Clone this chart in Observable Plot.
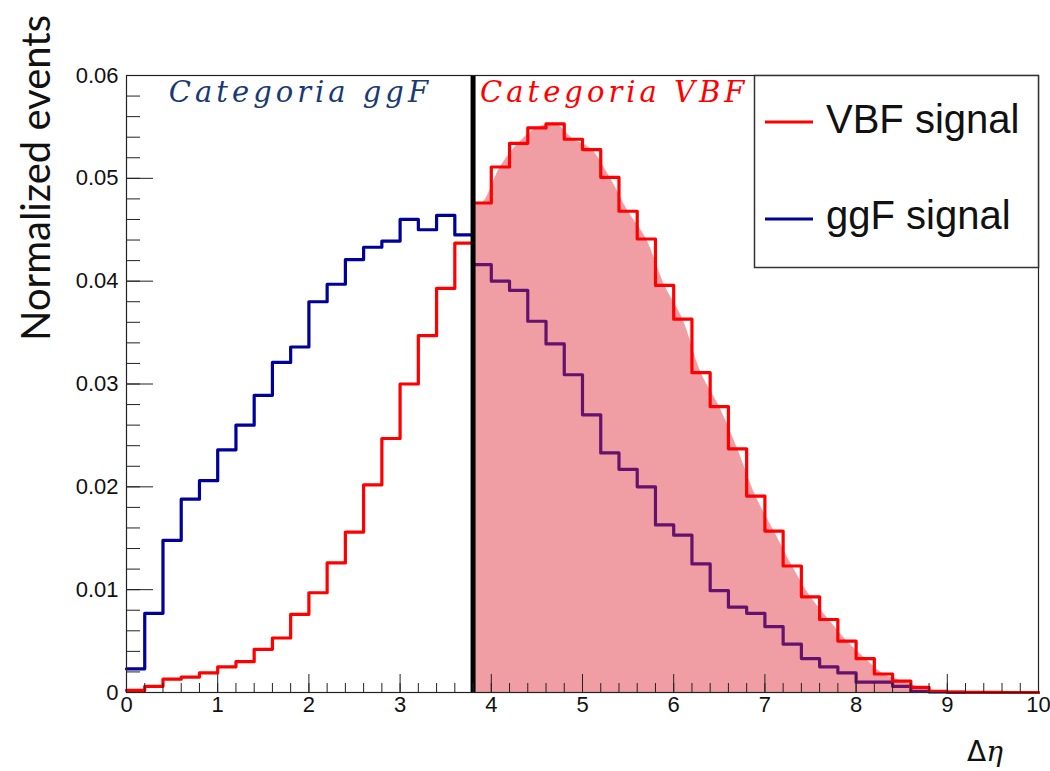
<!DOCTYPE html>
<html><head><meta charset="utf-8">
<script src="https://cdn.jsdelivr.net/npm/d3@7"></script>
<script src="https://cdn.jsdelivr.net/npm/@observablehq/plot@0.6"></script>
<style>
html,body{margin:0;padding:0;background:#fff;}
#chart{position:relative;width:1050px;height:771px;}
</style></head><body><div id="chart"></div>
<script>
// ---- data ----
const binLow = [0,0.2,0.4,0.6,0.8,1,1.2,1.4,1.6,1.8,2,2.2,2.4,2.6,2.8,3,3.2,3.4,3.6,3.8,
  4,4.2,4.4,4.6,4.8,5,5.2,5.4,5.6,5.8,6,6.2,6.4,6.6,6.8,7,7.2,7.4,7.6,7.8,
  8,8.2,8.4,8.6,8.8,9,9.2,9.4,9.6,9.8];
const binWidth = 0.2;
const vbfSignal = [0.0002,0.0006,0.0013,0.0015,0.0019,0.0025,0.0030,0.0042,0.0053,0.0076,
  0.0097,0.0126,0.0156,0.0202,0.0247,0.0300,0.0347,0.0393,0.0437,0.0476,
  0.0511,0.0534,0.0549,0.0553,0.0538,0.0528,0.0501,0.0468,0.0441,0.0396,
  0.0363,0.0311,0.0278,0.0237,0.0191,0.0157,0.0123,0.0093,0.0071,0.0050,
  0.0033,0.0018,0.0011,0.0005,0.0001,0.00003,0.00002,0.00001,0,0];
const ggfSignal = [0.0023,0.0077,0.0148,0.0188,0.0206,0.0236,0.0260,0.0289,0.0321,0.0336,
  0.0380,0.0397,0.0421,0.0433,0.0439,0.0460,0.0450,0.0464,0.0445,0.0416,
  0.0400,0.0391,0.0361,0.0339,0.0309,0.0270,0.0233,0.0217,0.0200,0.0163,
  0.0153,0.0125,0.0099,0.0083,0.0077,0.0064,0.0047,0.0033,0.0025,0.0019,
  0.0010,0.0010,0.0006,0.0001,0.00005,0.00002,0,0,0,0];
const cutValue = [3.8];
const seriesNames = ["VBF signal", "ggF signal"];
const seriesColors = ["#ff0000", "#00009a"];
const categoryLabels = ["Categoria ggF", "Categoria VBF"];
const categoryColors = ["#1a3a72", "#ff0000"];
const xMajorTicks = [0,1,2,3,4,5,6,7,8,9,10];
const yMajorTicks = [0,0.01,0.02,0.03,0.04,0.05,0.06];
const yTickLabels = ["0","0.01","0.02","0.03","0.04","0.05","0.06"];
const xLabel = ["Δ", "η"];
const yLabel = "Normalized events";

// ---- derived tables ----
const xMinorTicks = d3.range(0, 51).map(i => i * binWidth);
const yMinorTicks = d3.range(0, 31).map(i => i * 0.002);
const cut = cutValue[0];
const stepData = vals => binLow.map((x, i) => ({x, y: vals[i]}))
  .concat([{x: binLow[binLow.length - 1] + binWidth, y: vals[vals.length - 1]}]);
const firstCutBin = binLow.findIndex(x => x >= cut - 1e-9);
const fillData = [{x: cut, y: vbfSignal[firstCutBin]}]
  .concat(binLow.map((x, i) => ({x: x + binWidth / 2, y: vbfSignal[i]})).filter(d => d.x > cut));

const textFont = "'Liberation Sans', Arial, sans-serif";
const catFont = "'DejaVu Serif', serif";

const plot = Plot.plot({
  width: 1050, height: 771,
  marginLeft: 126, marginRight: 12, marginTop: 75, marginBottom: 79,
  x: {domain: [0, 10]},
  y: {domain: [0, 0.06]},
  style: {fontFamily: textFont, fontSize: "22px", background: "white", color: "#111"},
  marks: [
    Plot.lineY(stepData(ggfSignal), {x: "x", y: "y", curve: "step-after", stroke: seriesColors[1], strokeWidth: 3.2}),
    Plot.areaY(fillData, {x: "x", y: "y", curve: "catmull-rom", fill: "rgb(222,39,53)", fillOpacity: 0.45}),
    Plot.lineY(stepData(vbfSignal), {x: "x", y: "y", curve: "step-after", stroke: seriesColors[0], strokeWidth: 3.2}),
    Plot.ruleX(cutValue, {stroke: "black", strokeWidth: 5}),
    Plot.frame({stroke: "#222", strokeWidth: 1.2}),
    Plot.axisX(xMinorTicks, {tickSize: -9, fill: "none", stroke: "#222", label: null}),
    Plot.axisX(xMajorTicks, {tickSize: -18, fill: "none", stroke: "#222", label: null}),
    Plot.axisX(xMajorTicks, {tickSize: 0, tickPadding: 4, fill: "#111", label: null, tickFormat: d => String(d)}),
    Plot.axisY(yMinorTicks, {tickSize: -14, fill: "none", stroke: "#222", label: null}),
    Plot.axisY(yMajorTicks, {tickSize: -27, fill: "none", stroke: "#222", label: null}),
    Plot.axisY(yMajorTicks, {tickSize: 0, tickPadding: 8, fill: "#111", label: null,
      tickFormat: d => yTickLabels[yMajorTicks.indexOf(d)]}),
    Plot.text([categoryLabels[0]], {x: () => cut, text: d => d, frameAnchor: "top", textAnchor: "end",
      lineAnchor: "middle", dx: -41, dy: 17, fill: categoryColors[0],
      fontFamily: catFont, fontStyle: "italic", fontSize: 29}),
    Plot.text([categoryLabels[1]], {x: () => cut, text: d => d, frameAnchor: "top", textAnchor: "start",
      lineAnchor: "middle", dx: 7, dy: 17, fill: categoryColors[1],
      fontFamily: catFont, fontStyle: "italic", fontSize: 29})
  ]
});

document.getElementById("chart").appendChild(plot);

const svg = d3.select(plot);
svg.selectAll("text").filter(function() { return categoryLabels.includes(this.textContent); })
  .attr("letter-spacing", "4px");

// legend
const leg = svg.append("g").attr("text-anchor", "start");
leg.append("rect").attr("x", 754.5).attr("y", 75.5).attr("width", 284).attr("height", 192)
  .attr("fill", "white").attr("stroke", "#333").attr("stroke-width", 1.5);
const legLineY = [122, 219];
const legTextY = [133, 229];
seriesNames.forEach((name, i) => {
  leg.append("line").attr("x1", 765).attr("x2", 813).attr("y1", legLineY[i]).attr("y2", legLineY[i])
    .attr("stroke", seriesColors[i]).attr("stroke-width", 3);
  leg.append("text").attr("x", 826).attr("y", legTextY[i]).attr("text-anchor", "start").text(name)
    .attr("font-family", textFont).attr("font-size", 40).attr("fill", "#111");
});

// axis titles
svg.append("text").attr("transform", "translate(50,178) rotate(-90)")
  .attr("text-anchor", "middle").attr("font-family", "Lato, 'Open Sans', sans-serif")
  .attr("font-size", 40).attr("fill", "#111").text(yLabel);
const xl = svg.append("text").attr("x", 967).attr("y", 761).attr("text-anchor", "start")
  .attr("font-size", 28).attr("fill", "#111");
xl.append("tspan").attr("font-family", "'DejaVu Sans', sans-serif").text(xLabel[0]);
xl.append("tspan").attr("font-family", "'DejaVu Serif', serif").attr("font-style", "italic").text(xLabel[1]);
</script>
</body></html>
